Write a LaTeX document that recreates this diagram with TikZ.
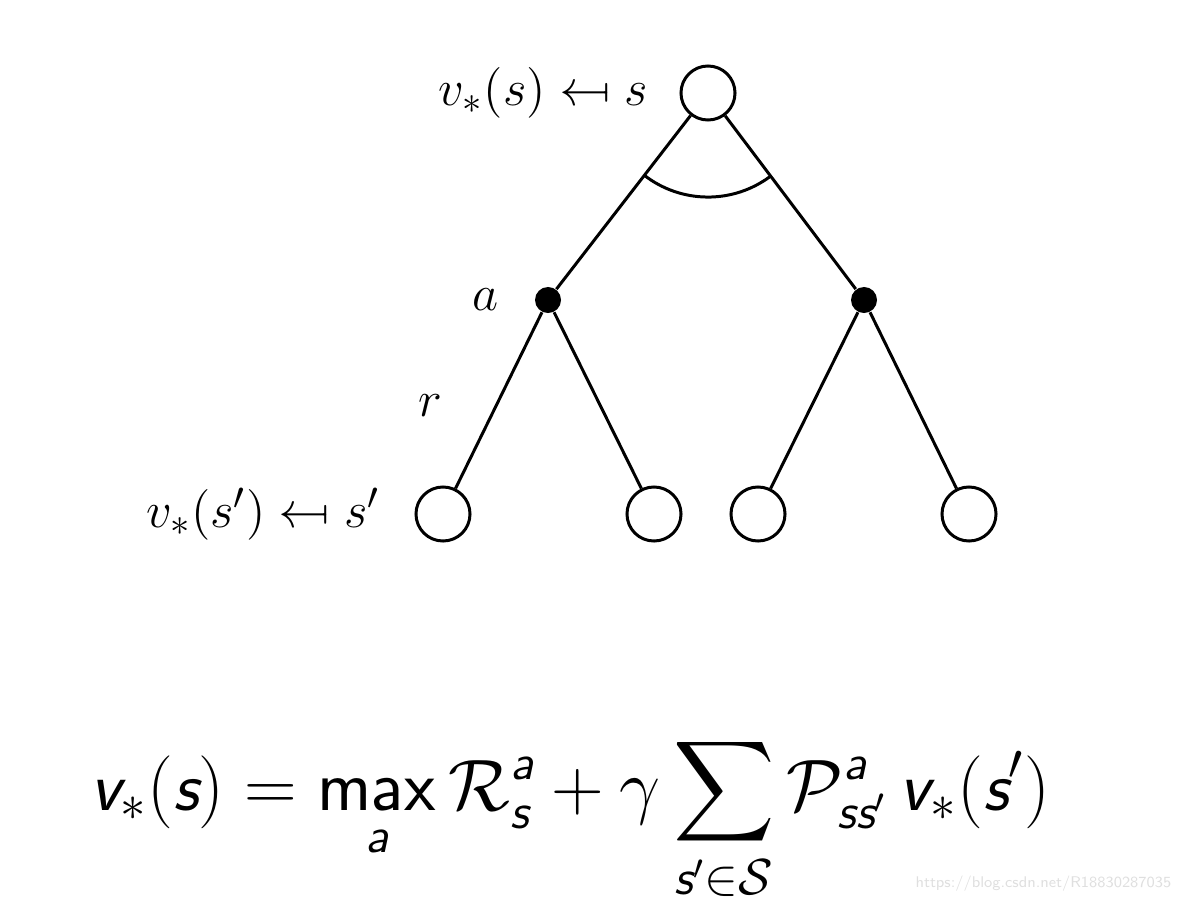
\documentclass[tikz,border=0pt]{standalone}
\usepackage{amsmath,amssymb}
\usepackage{graphicx}
\usetikzlibrary{positioning}
\newcommand{\mapsback}{\mathrel{\reflectbox{$\mapsto$}}}
\newcommand{\ssl}[1]{\text{\sffamily\slshape #1}}

\begin{document}
\begin{tikzpicture}[x=0.01cm,y=0.01cm,
state/.style={draw,circle,line width=0.85pt,minimum size=0.54cm,inner sep=0pt},
action/.style={fill,circle,minimum size=0.26cm,inner sep=0pt},
flow/.style={line width=0.85pt},
lbl/.style={inner sep=0pt,font=\fontsize{15.8}{19}\selectfont}]
\useasboundingbox (0,0) rectangle (1182,902);
% backup tree
\node[state] (root) at (708,809) {};
\node[action] (actL) at (548,602) {};
\node[action] (actR) at (864,602) {};
\node[state] (leafA) at (443,388) {};
\node[state] (leafB) at (654,388) {};
\node[state] (leafC) at (758,388) {};
\node[state] (leafD) at (969,388) {};
\draw[flow] (root) -- (actL);
\draw[flow] (root) -- (actR);
\draw[flow] (actL) -- (leafA);
\draw[flow] (actL) -- (leafB);
\draw[flow] (actR) -- (leafC);
\draw[flow] (actR) -- (leafD);
\draw[flow] ([shift={(232:1.04cm)}]root.center) arc[start angle=232,end angle=307,radius=1.04cm];
% labels
\node[lbl,left=0.31cm of root] (rootlbl) {$v_*(s)\mapsback s$};
\node[lbl,left=0.35cm of actL] (albl) {$a$};
\path (actL) -- (leafA) node[lbl,midway,left=0.56cm,yshift=-0.05cm] (rlbl) {$r$};
\node[lbl,left=0.34cm of leafA] (leaflbl) {$v_*(s')\mapsback s'$};
% equation
\node[anchor=base,font=\fontsize{20}{24}\selectfont] (bellman) at (570,92)
  {$\displaystyle \ssl{v}_*(\ssl{s}) = \mathop{\mathsf{max}}\limits_{\ssl{a}} \mathcal{R}^{\ssl{a}}_{\ssl{s}} + \gamma \sum_{\ssl{s}'\in\mathcal{S}} \mathcal{P}^{\ssl{a}}_{\ssl{ss}'}\, \ssl{v}_*(\ssl{s}')$};
\node[anchor=east,inner sep=0pt,text=gray!25,font=\sffamily\fontsize{4.4}{5}\selectfont] (mark) at (1172,18) {https://blog.csdn.net/R18830287035};
\end{tikzpicture}
\end{document}
